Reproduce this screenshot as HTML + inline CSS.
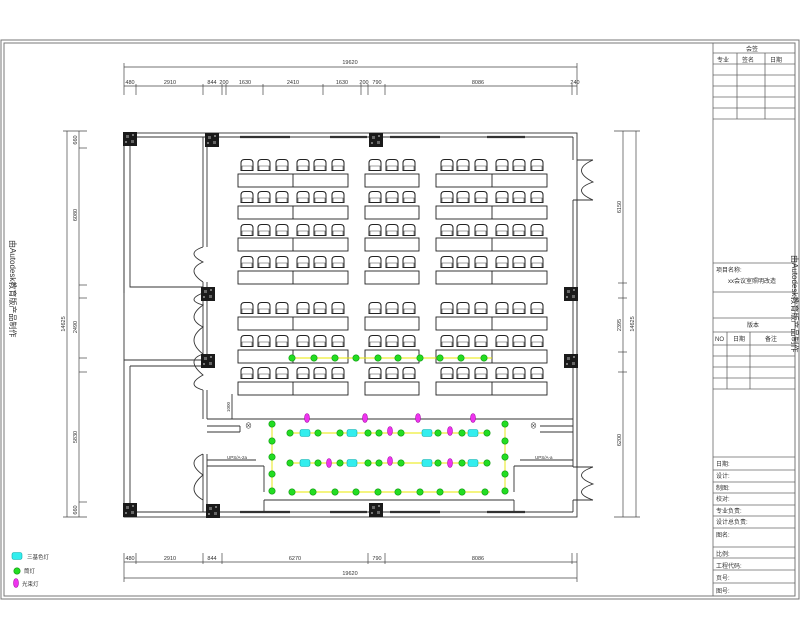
<!DOCTYPE html>
<html><head><meta charset="utf-8"><style>
html,body{margin:0;padding:0;background:#fff;}
svg{display:block;font-family:"Liberation Sans","Noto Sans CJK SC",sans-serif;}
</style></head><body>
<svg width="800" height="640" viewBox="0 0 800 640" xmlns="http://www.w3.org/2000/svg">
<defs>
<g id="ch"><path d="M-6,5.5 L-6,-2 Q-6,-5.5 -2.5,-5.5 L2.5,-5.5 Q6,-5.5 6,-2 L6,5.5 Z" fill="none" stroke="#222" stroke-width="1"/><path d="M-5,5.5 L-5,1 L5,1 L5,5.5" fill="none" stroke="#444" stroke-width="0.6"/></g>
<g id="row6"><use href="#ch" x="247"/><use href="#ch" x="264"/><use href="#ch" x="282"/><use href="#ch" x="303"/><use href="#ch" x="320"/><use href="#ch" x="338"/>
<use href="#ch" x="375"/><use href="#ch" x="392"/><use href="#ch" x="409"/>
<use href="#ch" x="447"/><use href="#ch" x="463"/><use href="#ch" x="481"/><use href="#ch" x="502"/><use href="#ch" x="519"/><use href="#ch" x="537"/></g>
<g id="tab" fill="none" stroke="#222" stroke-width="0.9"><rect x="238" y="0" width="110" height="13"/><line x1="293" y1="0" x2="293" y2="13"/><rect x="365" y="0" width="54" height="13"/><rect x="436" y="0" width="111" height="13"/><line x1="492" y1="0" x2="492" y2="13"/></g>
<g id="g"><circle r="3.2" fill="#22dd22" stroke="#119911" stroke-width="0.6"/></g>
<g id="c"><rect x="-5" y="-3.5" width="10" height="7" rx="2" fill="#33eeee" stroke="#11aaaa" stroke-width="0.6"/></g>
<g id="m"><ellipse rx="2.5" ry="4.5" fill="#ee33ee" stroke="#aa11aa" stroke-width="0.6"/></g>
<g id="col"><rect x="-7" y="-7" width="14" height="14" fill="#1a1a1a"/><rect x="-4" y="-4" width="3" height="3" fill="#666"/><rect x="1" y="1" width="3" height="3" fill="#666"/><rect x="2" y="-5" width="2" height="2" fill="#777"/><rect x="-5" y="2" width="2" height="2" fill="#777"/></g>
</defs>

<rect x="1" y="40" width="798" height="559" fill="none" stroke="#777" stroke-width="1"/>
<rect x="4" y="43" width="791" height="553" fill="none" stroke="#777" stroke-width="1"/>
<text x="0" y="0" font-size="8" fill="#333" transform="translate(10,240) rotate(90)">由Autodesk教育版产品制作</text>
<text x="0" y="0" font-size="8" fill="#333" transform="translate(792,255) rotate(90)">由Autodesk教育版产品制作</text>

<g stroke="#666" stroke-width="0.8" fill="none">
<line x1="713" y1="43" x2="713" y2="596"/>
<line x1="713" y1="53" x2="795" y2="53"/><line x1="713" y1="64" x2="795" y2="64"/>
<line x1="713" y1="75" x2="795" y2="75"/><line x1="713" y1="86" x2="795" y2="86"/><line x1="713" y1="97" x2="795" y2="97"/><line x1="713" y1="108" x2="795" y2="108"/><line x1="713" y1="119" x2="795" y2="119"/>
<line x1="737" y1="53" x2="737" y2="119"/><line x1="765" y1="53" x2="765" y2="119"/>
<line x1="713" y1="263" x2="795" y2="263"/><line x1="713" y1="292" x2="795" y2="292"/><line x1="713" y1="318" x2="795" y2="318"/><line x1="713" y1="332" x2="795" y2="332"/>
<line x1="713" y1="345" x2="795" y2="345"/><line x1="713" y1="356" x2="795" y2="356"/><line x1="713" y1="367" x2="795" y2="367"/><line x1="713" y1="378" x2="795" y2="378"/><line x1="713" y1="389" x2="795" y2="389"/>
<line x1="727" y1="332" x2="727" y2="389"/><line x1="750" y1="332" x2="750" y2="389"/>
<line x1="713" y1="457" x2="795" y2="457"/><line x1="713" y1="470" x2="795" y2="470"/><line x1="713" y1="482" x2="795" y2="482"/><line x1="713" y1="493" x2="795" y2="493"/><line x1="713" y1="505" x2="795" y2="505"/><line x1="713" y1="516" x2="795" y2="516"/><line x1="713" y1="528" x2="795" y2="528"/><line x1="713" y1="547" x2="795" y2="547"/><line x1="713" y1="558" x2="795" y2="558"/><line x1="713" y1="570" x2="795" y2="570"/><line x1="713" y1="583" x2="795" y2="583"/>
</g>
<g font-size="6" fill="#333">
<text x="746" y="51">会签</text><text x="717" y="62">专业</text><text x="742" y="62">签名</text><text x="770" y="62">日期</text>
<text x="716" y="272">项目名称:</text><text x="728" y="283">xx会议室照明改造</text>
<text x="747" y="327">版本</text><text x="715" y="341">NO</text><text x="733" y="341">日期</text><text x="765" y="341">备注</text>
<text x="716" y="466">日期:</text><text x="716" y="478">设计:</text><text x="716" y="490">制图:</text><text x="716" y="501">校对:</text><text x="716" y="513">专业负责:</text><text x="716" y="524">设计总负责:</text><text x="716" y="537">图名:</text><text x="716" y="556">比例:</text><text x="716" y="568">工程代码:</text><text x="716" y="580">页号:</text><text x="716" y="593">图号:</text>
</g>

<g stroke="#444" stroke-width="0.7" fill="none">
<line x1="124" y1="67" x2="577" y2="67"/><line x1="124" y1="63" x2="124" y2="95"/><line x1="577" y1="63" x2="577" y2="95"/>
<line x1="124" y1="86" x2="577" y2="86"/>
<line x1="136" y1="84" x2="136" y2="95"/><line x1="203" y1="84" x2="203" y2="95"/><line x1="222" y1="84" x2="222" y2="95"/><line x1="226" y1="84" x2="226" y2="95"/><line x1="263" y1="84" x2="263" y2="95"/><line x1="323" y1="84" x2="323" y2="95"/><line x1="361" y1="84" x2="361" y2="95"/><line x1="368" y1="84" x2="368" y2="95"/><line x1="385" y1="84" x2="385" y2="95"/><line x1="572" y1="84" x2="572" y2="95"/>
<line x1="124" y1="578" x2="577" y2="578"/><line x1="124" y1="553" x2="124" y2="582"/><line x1="577" y1="553" x2="577" y2="582"/>
<line x1="124" y1="562" x2="577" y2="562"/>
<line x1="136" y1="553" x2="136" y2="564"/><line x1="203" y1="553" x2="203" y2="564"/><line x1="222" y1="553" x2="222" y2="564"/><line x1="368" y1="553" x2="368" y2="564"/><line x1="385" y1="553" x2="385" y2="564"/><line x1="572" y1="553" x2="572" y2="564"/>
<line x1="67" y1="131" x2="67" y2="517"/><line x1="63" y1="131" x2="87" y2="131"/><line x1="63" y1="517" x2="87" y2="517"/>
<line x1="79" y1="131" x2="79" y2="517"/>
<line x1="79" y1="148" x2="87" y2="148"/><line x1="79" y1="285" x2="87" y2="285"/><line x1="79" y1="298" x2="87" y2="298"/><line x1="79" y1="358" x2="87" y2="358"/><line x1="79" y1="372" x2="87" y2="372"/><line x1="79" y1="502" x2="87" y2="502"/>
<line x1="636" y1="131" x2="636" y2="517"/><line x1="614" y1="131" x2="640" y2="131"/><line x1="614" y1="517" x2="640" y2="517"/>
<line x1="623" y1="131" x2="623" y2="517"/>
<line x1="618" y1="283" x2="627" y2="283"/><line x1="618" y1="298" x2="627" y2="298"/><line x1="618" y1="352" x2="627" y2="352"/><line x1="618" y1="372" x2="627" y2="372"/>
</g>
<g font-size="5.5" fill="#333" text-anchor="middle">
<text x="350" y="64">19620</text><text x="350" y="575">19620</text>
<text x="130" y="84">480</text><text x="170" y="84">2910</text><text x="212" y="84">844</text><text x="224" y="84">200</text><text x="245" y="84">1630</text><text x="293" y="84">2410</text><text x="342" y="84">1630</text><text x="364" y="84">200</text><text x="377" y="84">790</text><text x="478" y="84">8086</text><text x="575" y="84">240</text>
<text x="130" y="560">480</text><text x="170" y="560">2910</text><text x="212" y="560">844</text><text x="295" y="560">6270</text><text x="377" y="560">790</text><text x="478" y="560">8086</text>
</g>
<g font-size="5.5" fill="#333" text-anchor="middle">
<text transform="translate(65,324) rotate(-90)">14625</text><text transform="translate(77,215) rotate(-90)">6080</text><text transform="translate(77,140) rotate(-90)">660</text><text transform="translate(77,327) rotate(-90)">2490</text><text transform="translate(77,437) rotate(-90)">5830</text><text transform="translate(77,510) rotate(-90)">660</text>
<text transform="translate(634,324) rotate(-90)">14625</text><text transform="translate(621,207) rotate(-90)">6150</text><text transform="translate(621,325) rotate(-90)">2395</text><text transform="translate(621,440) rotate(-90)">6200</text>
</g>

<g stroke="#333" stroke-width="0.9" fill="none">
<rect x="124" y="133" width="453" height="384"/>
<line x1="130" y1="137" x2="573" y2="137"/>
<line x1="130" y1="512" x2="573" y2="512"/>
<path d="M130,137 V287 H203 M124,293 V133"/>
<path d="M203,137 V247 M207,137 V247 M203,282 V354 M207,282 V354 M203,390 V419 M207,390 V419 M203,454 V512 M207,454 V512"/>
<path d="M124,360 H203 M130,366 H203 M130,366 V512"/>
<path d="M573,137 V160 M577,160 H593 M573,200 H593 M573,200 V467 M577,200 V467 M573,467 H593 M573,500 H593 M573,500 V512"/>
<path d="M207,419 H573 M207,426 H240 M240,426 V432 M207,432 H240 M540,426 H573 M540,432 H573"/>
<path d="M207,466 H264 M264,466 V492 M207,460 H256 M573,466 H514 M514,466 V492 M573,460 H520"/>
<path d="M264,500 H514 M264,500 V512 M514,500 V512"/>
<path d="M240,137 H290 M330,137 H367 M390,137 H440 M487,137 H525 M240,512 H290 M330,512 H367 M390,512 H440 M487,512 H525" stroke-width="2.2"/>
<path d="M203,247 Q185,253 203,262 Q185,270 203,282" />
<path d="M203,293 Q185,300 203,305 Q185,318 203,327 Q185,340 203,354"/>
<path d="M203,354 Q185,360 203,375 Q185,385 203,390"/>
<path d="M203,454 Q185,462 203,475 Q185,490 203,500"/>
<path d="M593,160 Q570,170 593,182 Q570,190 593,200"/>
<path d="M593,467 Q570,475 593,484 Q570,492 593,500"/>
<line x1="232" y1="394" x2="232" y2="419"/>
</g>
<g font-size="4.5" fill="#333"><text x="227" y="459">UPS/A-2a</text><text x="535" y="459">UPS/A-a</text><text transform="translate(230,412) rotate(-90)">1000</text></g>
<use href="#col" x="130" y="139"/><use href="#col" x="212" y="140"/><use href="#col" x="376" y="140"/><use href="#col" x="208" y="294"/><use href="#col" x="208" y="361"/><use href="#col" x="571" y="294"/><use href="#col" x="571" y="361"/><use href="#col" x="130" y="510"/><use href="#col" x="213" y="511"/><use href="#col" x="376" y="510"/>

<use href="#row6" y="165"/><use href="#tab" y="174"/>
<use href="#row6" y="197"/><use href="#tab" y="206"/>
<use href="#row6" y="230"/><use href="#tab" y="238"/>
<use href="#row6" y="262"/><use href="#tab" y="271"/>
<use href="#row6" y="308"/><use href="#tab" y="317"/>
<use href="#row6" y="341"/><use href="#tab" y="350"/>
<use href="#row6" y="373"/><use href="#tab" y="382"/>

<g stroke="#e8e800" stroke-width="0.9" fill="none">
<line x1="292" y1="358" x2="492" y2="358"/>
<line x1="272" y1="424" x2="272" y2="491"/><line x1="505" y1="424" x2="505" y2="491"/>
<line x1="290" y1="433" x2="490" y2="433"/><line x1="290" y1="463" x2="490" y2="463"/><line x1="290" y1="492" x2="490" y2="492"/>
</g>
<g>
<use href="#g" x="292" y="358"/><use href="#g" x="314" y="358"/><use href="#g" x="335" y="358"/><use href="#g" x="356" y="358"/><use href="#g" x="378" y="358"/><use href="#g" x="398" y="358"/><use href="#g" x="420" y="358"/><use href="#g" x="440" y="358"/><use href="#g" x="461" y="358"/><use href="#g" x="484" y="358"/>
<use href="#g" x="272" y="424"/><use href="#g" x="272" y="441"/><use href="#g" x="272" y="457"/><use href="#g" x="272" y="474"/><use href="#g" x="272" y="491"/>
<use href="#g" x="505" y="424"/><use href="#g" x="505" y="441"/><use href="#g" x="505" y="457"/><use href="#g" x="505" y="474"/><use href="#g" x="505" y="491"/>
<use href="#g" x="290" y="433"/><use href="#g" x="318" y="433"/><use href="#g" x="340" y="433"/><use href="#g" x="368" y="433"/><use href="#g" x="379" y="433"/><use href="#g" x="401" y="433"/><use href="#g" x="438" y="433"/><use href="#g" x="462" y="433"/><use href="#g" x="487" y="433"/>
<use href="#g" x="290" y="463"/><use href="#g" x="318" y="463"/><use href="#g" x="340" y="463"/><use href="#g" x="368" y="463"/><use href="#g" x="379" y="463"/><use href="#g" x="401" y="463"/><use href="#g" x="438" y="463"/><use href="#g" x="462" y="463"/><use href="#g" x="487" y="463"/>
<use href="#g" x="292" y="492"/><use href="#g" x="313" y="492"/><use href="#g" x="335" y="492"/><use href="#g" x="356" y="492"/><use href="#g" x="378" y="492"/><use href="#g" x="398" y="492"/><use href="#g" x="420" y="492"/><use href="#g" x="440" y="492"/><use href="#g" x="462" y="492"/><use href="#g" x="485" y="492"/>
<use href="#c" x="305" y="433"/><use href="#c" x="352" y="433"/><use href="#c" x="427" y="433"/><use href="#c" x="473" y="433"/>
<use href="#c" x="305" y="463"/><use href="#c" x="352" y="463"/><use href="#c" x="427" y="463"/><use href="#c" x="473" y="463"/>
<use href="#m" x="307" y="418"/><use href="#m" x="365" y="418"/><use href="#m" x="418" y="418"/><use href="#m" x="473" y="418"/>
<use href="#m" x="390" y="431"/><use href="#m" x="450" y="431"/><use href="#m" x="329" y="463"/><use href="#m" x="390" y="461"/><use href="#m" x="450" y="463"/>
</g>
<text x="245" y="428" font-size="7" fill="#333">⊗</text><text x="530" y="428" font-size="7" fill="#333">⊗</text>

<use href="#c" x="17" y="556"/><text x="27" y="559" font-size="5.5" fill="#333">三基色灯</text>
<use href="#g" x="17" y="571"/><text x="24" y="573" font-size="5.5" fill="#333">筒灯</text>
<use href="#m" x="16" y="583"/><text x="22" y="586" font-size="5.5" fill="#333">光束灯</text>
</svg>
</body></html>
